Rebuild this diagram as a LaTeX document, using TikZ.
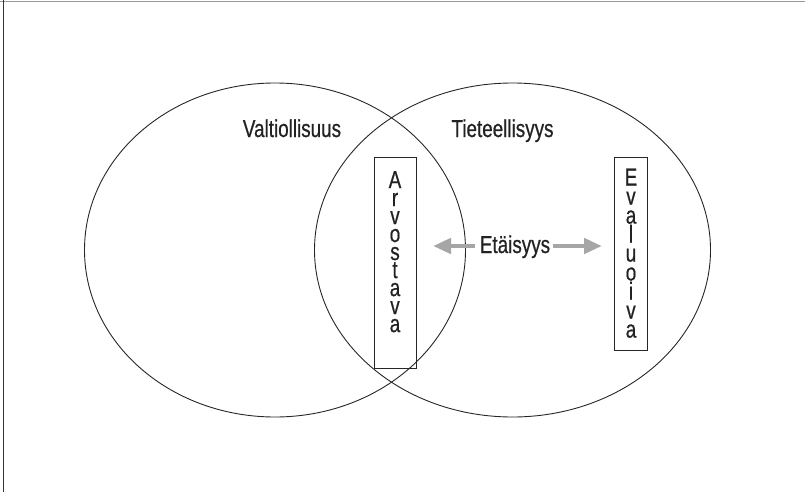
\documentclass[tikz,border=0pt]{standalone}
\usepackage{fontspec}
\newfontfamily\cond[FakeStretch=0.77,FakeBold=0.6]{Liberation Sans}
\usetikzlibrary{arrows.meta,shapes.geometric}
\definecolor{arrgray}{HTML}{A6A6A6}
\definecolor{txt}{HTML}{222222}
\tikzset{
  circ/.style={draw=black!85, line width=0.9pt},
  label/.style={font=\cond\fontsize{24.5}{24.5}\selectfont, text=txt, inner sep=0pt},
  stack/.style={font=\cond\fontsize{24.5}{#1}\selectfont, text=txt, inner sep=0pt, align=center, anchor=north},
  letterbox/.style={draw=black!85, line width=0.9pt, inner sep=0pt, minimum width=#1},
  arr/.style={draw=arrgray, line width=4.5pt, -{Triangle[length=18pt,width=15pt]}}
}
\begin{document}
\begin{tikzpicture}[x=1pt,y=-1pt]
\useasboundingbox (0,0) rectangle (805,492);
% frame lines
\draw[gray!80, line width=1.6pt] (0,1.5) -- (805,1.5);
\draw[black!80, line width=1.5pt] (3.5,0) -- (3.5,492);
% circles
\node[circ, ellipse, minimum width=381pt, minimum height=334pt, inner sep=0pt] (left) at (275,250) {};
\node[circ, ellipse, minimum width=396pt, minimum height=334pt, inner sep=0pt] (right) at (512.5,250) {};
% labels
\node[label, anchor=base] (val) at (292,137) {Valtiollisuus};
\node[label, anchor=base] (tie) at (502.5,137) {Tieteellisyys};
% boxes
\node[letterbox=42pt, minimum height=211pt] (arv) at (395,262.5) {};
\node[letterbox=33pt, minimum height=193pt] (eva) at (630.5,253.5) {};
\node[stack=18pt] (arvtext) at (395,171) {A\\r\\v\\o\\s\\t\\a\\v\\a};
\node[stack=19pt] (evatext) at (631,168.5) {E\\v\\a\\l\\u\\o\\i\\v\\a};
% distance
\node[label, anchor=base] (et) at (515,253) {Etäisyys};
\coordinate (l1) at (475,246);
\coordinate (l2) at (433,246);
\coordinate (r1) at (553,246);
\coordinate (r2) at (602,246);
\draw[arr] (l1) -- (l2);
\draw[arr] (r1) -- (r2);
\end{tikzpicture}
\end{document}
